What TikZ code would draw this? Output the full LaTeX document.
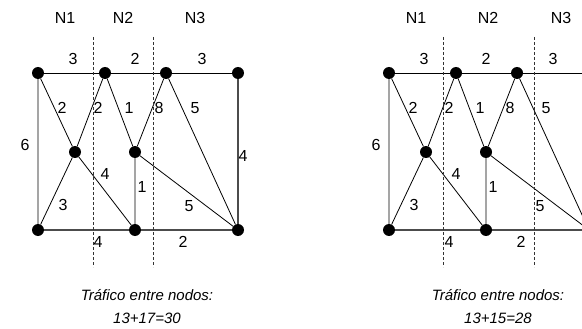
\documentclass[tikz,border=0pt]{standalone}
\usepackage{fontspec}
\setmainfont{Liberation Sans}

\begin{document}
\begin{tikzpicture}[x=1pt,y=-1pt, font=\fontsize{16}{19}\selectfont,
  punto/.style={circle,fill=black,inner sep=0pt,minimum size=12pt},
  arista/.style={black,line width=0.8pt},
  aristag/.style={black!70,line width=1.3pt},
  corte/.style={black!80,line width=0.7pt,dash pattern=on 3pt off 2pt},
  peso/.style={inner sep=0pt},
  texto/.style={inner sep=0pt,font=\fontsize{15}{18}\selectfont\itshape}]
\useasboundingbox (0,0) rectangle (582,329);
\clip (0,0) rectangle (582,329);
% the two cuts: left one and right one
\foreach \g/\dx in {1/0, 2/351} {
 \node[punto] (a\g) at (38+\dx,73)  {};
 \node[punto] (b\g) at (105+\dx,73) {};
 \node[punto] (c\g) at (166+\dx,73) {};
 \node[punto] (d\g) at (238+\dx,73) {};
 \node[punto] (e\g) at (75+\dx,152) {};
 \node[punto] (f\g) at (135+\dx,152) {};
 \node[punto] (g\g) at (38+\dx,230) {};
 \node[punto] (h\g) at (135+\dx,230) {};
 \node[punto] (i\g) at (238+\dx,230) {};
 \draw[arista] (a\g) -- (b\g) -- (c\g) -- (d\g);
 \draw[arista] (a\g) -- (e\g) -- (b\g) -- (f\g) -- (c\g) -- (i\g);
 \draw[arista] (a\g) -- (g\g) -- (e\g) -- (h\g) -- (f\g) -- (i\g);
 \draw[aristag] (g\g) -- (h\g) -- (i\g) -- (d\g);
 \foreach \p/\x/\y [count=\i] in {3/73/59, 2/135/59, 3/202/59, 2/62/108, 2/98/108,
   1/129/108, 8/159/108, 5/195/108, 6/25/145, 4/105/174, 1/142/187,
   3/63/205, 5/189/206, 4/98/242}
  \node[peso] (w\g\i) at (\x+\dx,\y) {\p};
}
\node[peso] (w1y) at (243,156) {4};
\node[peso] (w1x) at (183,242) {2};
\node[peso] (w2x) at (521,242) {2};
% cut lines
\foreach \x in {93, 153, 443, 534}
 \draw[corte] (\x,37) -- (\x,267);
% network names
\node (n11) at (65,18)  {N1};
\node (n12) at (123,18) {N2};
\node (n13) at (195,18) {N3};
\node (n21) at (416,18) {N1};
\node (n22) at (488,18) {N2};
\node (n23) at (561,18) {N3};
% traffic
\node[texto] (t1) at (147,295) {Tráfico entre nodos:};
\node[texto] (s1) at (147,318) {13+17=30};
\node[texto] (t2) at (498,295) {Tráfico entre nodos:};
\node[texto] (s2) at (498,318) {13+15=28};
\end{tikzpicture}
\end{document}
